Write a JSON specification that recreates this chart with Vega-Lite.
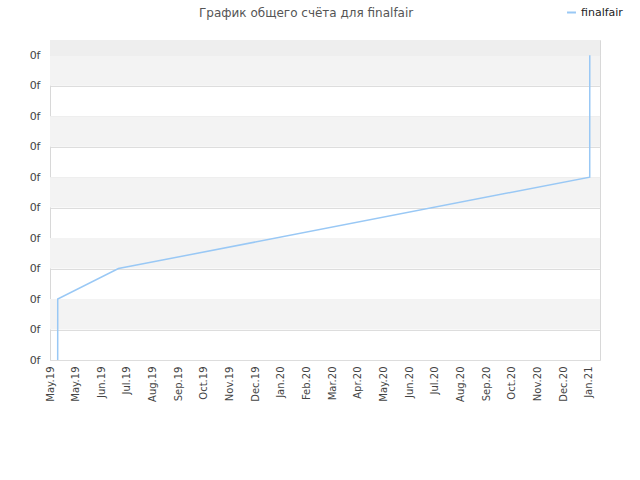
{
  "$schema": "https://vega.github.io/schema/vega-lite/v6.json",
  "autosize": "none",
  "width": 550,
  "height": 320,
  "padding": {"left": 50, "top": 40, "right": 40, "bottom": 120},
  "background": "white",
  "config": {
    "font": "DejaVu Sans",
    "view": {"stroke": "#d8d8d8", "strokeWidth": 1},
    "axisY": {
      "title": null,
      "values": [0, 1, 2, 3, 4, 5, 6, 7, 8, 9, 10],
      "labelExpr": "'0f'",
      "labelFontSize": 11,
      "labelColor": "#444444",
      "labelPadding": 10,
      "labelOverlap": false,
      "grid": true,
      "gridColor": "#dddddd",
      "ticks": false,
      "domain": false,
      "zindex": 1
    }
  },
  "datasets": {
    "score": [
      {"date": "2019-05-10T00:00:00", "score": 0, "series": "finalfair"},
      {"date": "2019-05-10T01:00:00", "score": 2, "series": "finalfair"},
      {"date": "2019-07-20T00:00:00", "score": 3, "series": "finalfair"},
      {"date": "2021-01-21T00:00:00", "score": 6, "series": "finalfair"},
      {"date": "2021-01-21T01:00:00", "score": 10, "series": "finalfair"}
    ],
    "bands": [
      {"lo": 1, "hi": 2, "kind": "odd"},
      {"lo": 3, "hi": 4, "kind": "odd"},
      {"lo": 5, "hi": 6, "kind": "odd"},
      {"lo": 7, "hi": 8, "kind": "odd"},
      {"lo": 9, "hi": 10, "kind": "odd"},
      {"lo": 10, "hi": 10.5, "kind": "top"}
    ]
  },
  "title": {
    "text": "График общего счёта для finalfair",
    "anchor": "start",
    "frame": "group",
    "dx": 149,
    "offset": -13,
    "fontSize": 12,
    "fontWeight": "normal",
    "color": "#555555"
  },
  "resolve": {"scale": {"color": "independent"}},
  "layer": [
    {
      "data": {"name": "bands"},
      "mark": {"type": "rect", "x": 0, "x2": {"expr": "width"}},
      "encoding": {
        "y": {
          "field": "lo",
          "type": "quantitative",
          "scale": {"domain": [0, 10.5], "nice": false},
          "axis": {"values": [0, 1, 2, 3, 4, 5, 6, 7, 8, 9, 10], "tickCount": 11}
        },
        "y2": {"field": "hi"},
        "color": {
          "field": "kind",
          "type": "nominal",
          "scale": {"domain": ["odd", "top"], "range": ["#f3f3f3", "#eeeeee"]},
          "legend": null
        }
      }
    },
    {
      "data": {"name": "score"},
      "mark": {"type": "line", "strokeWidth": 1.5, "interpolate": "linear"},
      "encoding": {
        "x": {
          "field": "date",
          "type": "temporal",
          "scale": {"domain": ["2019-05-01T00:00:00", "2021-02-02T00:00:00"], "nice": false},
          "axis": {
            "title": null,
            "values": [
              "2019-05-01T00:00:00", "2019-05-31T00:00:00", "2019-06-30T00:00:00", "2019-07-30T00:00:00",
              "2019-08-29T00:00:00", "2019-09-28T00:00:00", "2019-10-28T00:00:00", "2019-11-27T00:00:00",
              "2019-12-27T00:00:00", "2020-01-26T00:00:00", "2020-02-25T00:00:00", "2020-03-26T00:00:00",
              "2020-04-25T00:00:00", "2020-05-25T00:00:00", "2020-06-24T00:00:00", "2020-07-24T00:00:00",
              "2020-08-23T00:00:00", "2020-09-22T00:00:00", "2020-10-22T00:00:00", "2020-11-21T00:00:00",
              "2020-12-21T00:00:00", "2021-01-20T00:00:00"
            ],
            "format": "%b.%y",
            "labelAngle": -90,
            "labelAlign": "right",
            "labelBaseline": "middle",
            "labelFontSize": 10,
            "labelColor": "#444444",
            "labelPadding": 6,
            "labelOverlap": false,
            "labelFlush": false,
            "grid": false,
            "ticks": false,
            "domain": false
          }
        },
        "y": {
          "field": "score",
          "type": "quantitative",
          "axis": {"values": [0, 1, 2, 3, 4, 5, 6, 7, 8, 9, 10], "tickCount": 11}
        },
        "color": {
          "field": "series",
          "type": "nominal",
          "scale": {"range": ["#99c8f5"]},
          "legend": {
            "title": null,
            "orient": "none",
            "legendX": 516,
            "legendY": -33,
            "symbolType": "stroke",
            "symbolSize": 80,
            "symbolStrokeWidth": 2,
            "labelFontSize": 11,
            "labelColor": "#222222"
          }
        }
      }
    }
  ]
}
